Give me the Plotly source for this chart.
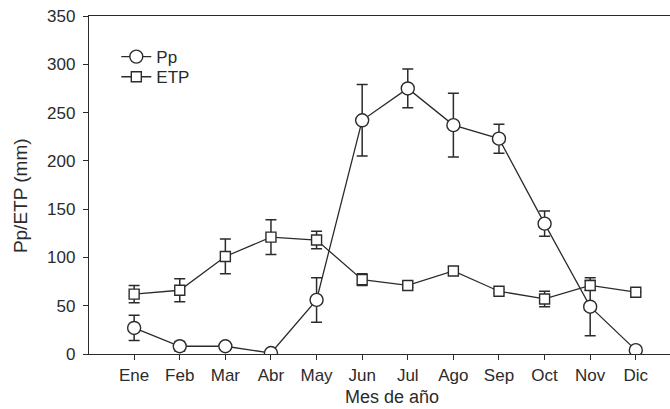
import plotly.graph_objects as go

# Monthly precipitation (Pp) and potential evapotranspiration (ETP), mm
meses = ["Ene", "Feb", "Mar", "Abr", "May", "Jun", "Jul", "Ago", "Sep", "Oct", "Nov", "Dic"]
pp = [27, 8, 8, 1, 56, 242, 275, 237, 223, 135, 49, 4]
pp_err = [13, 5, 4, 0, 23, 37, 20, 33, 15, 13, 30, 0]
etp = [62, 66, 101, 121, 118, 77, 71, 86, 65, 57, 71, 64]
etp_err = [9, 12, 18, 18, 9, 6, 2, 4, 2, 8, 5, 0]
y_ticks = [0, 50, 100, 150, 200, 250, 300, 350]

INK = "#2b2b2b"
FONT = "Liberation Sans, Arial, sans-serif"

fig = go.Figure()

fig.add_trace(go.Scatter(
    x=meses, y=pp, name="Pp", mode="lines+markers", legend="legend",
    line=dict(color=INK, width=1.3),
    marker=dict(symbol="circle", size=13, color="white", line=dict(color=INK, width=1.4)),
    error_y=dict(type="data", array=pp_err, visible=True, color=INK, thickness=1.5, width=5.5),
))
fig.add_trace(go.Scatter(
    x=meses, y=etp, name="ETP", mode="lines+markers", legend="legend2",
    line=dict(color=INK, width=1.3),
    marker=dict(symbol="square", size=10, color="white", line=dict(color=INK, width=1.4)),
    error_y=dict(type="data", array=etp_err, visible=True, color=INK, thickness=1.5, width=5.5),
))

legend_style = dict(xanchor="left", yanchor="middle", bgcolor="rgba(0,0,0,0)",
                    font=dict(size=17), itemsizing="trace")

fig.update_layout(
    width=670, height=409,
    margin=dict(l=89, r=0, t=16, b=55),
    paper_bgcolor="white", plot_bgcolor="white",
    font=dict(family=FONT, size=17, color=INK),
    showlegend=True,
    legend=dict(x=0.047, y=0.8785, **legend_style),
    legend2=dict(x=0.047, y=0.819, **legend_style),
    annotations=[
        dict(text="Pp/ETP (mm)", textangle=-90, xref="paper", yref="paper",
             x=-0.1188, y=0.47, xanchor="center", yanchor="middle",
             showarrow=False, font=dict(size=19)),
        dict(text="Mes de año", xref="paper", yref="paper",
             x=0.5215, y=-0.126, xanchor="center", yanchor="middle",
             showarrow=False, font=dict(size=18)),
    ],
)

fig.update_xaxes(
    type="category", categoryorder="array", categoryarray=meses,
    range=[-0.99, 11.75],
    showline=True, linecolor=INK, linewidth=1.3, mirror=True,
    ticks="outside", ticklen=5, tickcolor=INK, tickwidth=1.2,
    showgrid=False, zeroline=False,
)
fig.update_yaxes(
    range=[0, 350], tickvals=y_ticks,
    showline=True, linecolor=INK, linewidth=1.3,
    ticks="outside", ticklen=5, tickcolor=INK, tickwidth=1.2,
    ticklabelstandoff=4,
    showgrid=False, zeroline=False,
)

fig.write_html("out.html")
